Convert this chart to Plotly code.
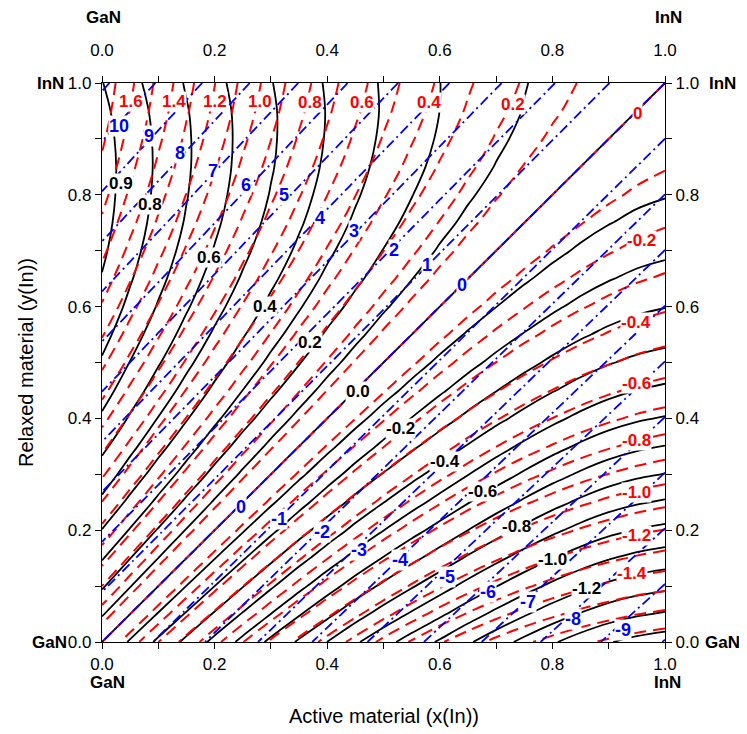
import plotly.graph_objects as go

# ---------------- data ----------------
# In composition grid (x of active layer, y of relaxed layer)
comp = [0.00, 0.05, 0.10, 0.15, 0.20, 0.25, 0.30, 0.35, 0.40, 0.45, 0.50,
        0.55, 0.60, 0.65, 0.70, 0.75, 0.80, 0.85, 0.90, 0.95, 1.00]
# in-plane lattice constant (Angstrom) at each composition
lattice_a = [3.1890, 3.2068, 3.2246, 3.2424, 3.2602, 3.2780, 3.2958, 3.3136,
             3.3314, 3.3492, 3.3670, 3.3848, 3.4026, 3.4204, 3.4382, 3.4560,
             3.4738, 3.4916, 3.5094, 3.5272, 3.5450]
# unstrained offset curve (red family = curve(y) - curve(x))
offset_curve = [0.000, 0.153, 0.299, 0.438, 0.571, 0.697, 0.816, 0.928,
                1.034, 1.133, 1.225, 1.310, 1.389, 1.461, 1.526, 1.584,
                1.635, 1.680, 1.718, 1.750, 1.774]
# strain coefficient of the active layer (black family = red + coef * strain)
strain_coef = [-7.80, -7.50, -7.20, -6.90, -6.60, -6.30, -6.00, -5.70,
               -5.45, -5.15, -4.90, -4.65, -4.40, -4.05, -3.70, -3.35,
               -3.00, -2.70, -2.45, -2.30, -2.20]

tick_vals = [0.0, 0.2, 0.4, 0.6, 0.8, 1.0]
tick_text = ["0.0", "0.2", "0.4", "0.6", "0.8", "1.0"]

black_labels_text = ["0.9", "0.8", "0.6", "0.4", "0.2", "0.0", "-0.2", "-0.4",
                     "-0.6", "-0.8", "-1.0", "-1.2"]
black_labels_x = [0.033, 0.086, 0.190, 0.290, 0.370, 0.455, 0.531, 0.610,
                  0.675, 0.737, 0.801, 0.861]
black_labels_y = [0.821, 0.782, 0.687, 0.601, 0.535, 0.448, 0.382, 0.323,
                  0.269, 0.206, 0.147, 0.096]

red_labels_text = ["1.6", "1.4", "1.2", "1.0", "0.8", "0.6", "0.4", "0.2", "0",
                   "-0.2", "-0.4", "-0.6", "-0.8", "-1.0", "-1.2", "-1.4"]
red_labels_x = [0.052, 0.127, 0.201, 0.281, 0.369, 0.461, 0.580, 0.730, 0.952,
                0.959, 0.949, 0.950, 0.950, 0.950, 0.950, 0.941]
red_labels_y = [0.967, 0.967, 0.967, 0.967, 0.966, 0.966, 0.966, 0.962, 0.946,
                0.719, 0.572, 0.463, 0.361, 0.268, 0.191, 0.123]

blue_labels_text = ["10", "9", "8", "7", "6", "5", "4", "3", "2", "1", "0",
                    "0", "-1", "-2", "-3", "-4", "-5", "-6", "-7", "-8", "-9"]
blue_labels_x = [0.030, 0.083, 0.139, 0.198, 0.255, 0.323, 0.388, 0.447,
                 0.518, 0.578, 0.639, 0.246, 0.314, 0.391, 0.456, 0.530,
                 0.613, 0.686, 0.757, 0.837, 0.926]
blue_labels_y = [0.923, 0.905, 0.875, 0.842, 0.817, 0.800, 0.759, 0.735,
                 0.702, 0.675, 0.639, 0.242, 0.220, 0.197, 0.165, 0.147,
                 0.117, 0.090, 0.072, 0.042, 0.022]

# ---------------- tables built from the arrays ----------------
n = len(comp)
strain_pct = [[100.0 * (lattice_a[j] - lattice_a[i]) / lattice_a[i] for i in range(n)]
              for j in range(n)]
red_field = [[offset_curve[j] - offset_curve[i] for i in range(n)] for j in range(n)]
black_field = [[red_field[j][i] + strain_coef[i] * strain_pct[j][i] / 100.0
                for i in range(n)] for j in range(n)]

FONT = "Liberation Sans, Arial, sans-serif"

fig = go.Figure()
fig.add_trace(go.Contour(
    x=comp, y=comp, z=black_field,
    contours=dict(coloring="none", start=-1.5, end=0.95, size=0.1),
    line=dict(color="black", width=1.8, smoothing=1.0),
    showscale=False, hoverinfo="skip"))
fig.add_trace(go.Contour(
    x=comp, y=comp, z=red_field,
    contours=dict(coloring="none", start=-1.7, end=1.75, size=0.1),
    line=dict(color="#ff0000", width=2.0, dash="12px,7px", smoothing=1.0),
    showscale=False, hoverinfo="skip"))
fig.add_trace(go.Contour(
    x=comp, y=comp, z=strain_pct,
    contours=dict(coloring="none", start=-10, end=11, size=1),
    line=dict(color="#0000ff", width=1.8, dash="10px,4px,2px,4px", smoothing=1.0),
    showscale=False, hoverinfo="skip"))
# carrier for the top / right axes
fig.add_trace(go.Scatter(x=[None], y=[None], xaxis="x2", yaxis="y2",
                         showlegend=False, hoverinfo="skip"))

annotations = []


def label(t, x, y, color, size):
    return dict(x=x, y=y, xref="x", yref="y", text="<b>%s</b>" % t,
                showarrow=False, bgcolor="white", borderpad=0,
                xanchor="center", yanchor="middle",
                font=dict(family=FONT, size=size, color=color))


for t, x, y in zip(black_labels_text, black_labels_x, black_labels_y):
    annotations.append(label(t, x, y, "black", 17))
for t, x, y in zip(red_labels_text, red_labels_x, red_labels_y):
    annotations.append(label(t, x, y, "#ff0000", 17))
for t, x, y in zip(blue_labels_text, blue_labels_x, blue_labels_y):
    annotations.append(label(t, x, y, "#0000ff", 18))

end_font = dict(family=FONT, size=17, color="black")
for txt, px, py in [("GaN", 0.010, -0.073), ("InN", 1.005, -0.073),
                    ("GaN", 0.003, 1.117), ("InN", 1.007, 1.117),
                    ("InN", -0.091, 1.0), ("GaN", -0.093, 0.0),
                    ("InN", 1.102, 1.0), ("GaN", 1.102, 0.0)]:
    annotations.append(dict(x=px, y=py, xref="paper", yref="paper",
                            xanchor="center", yanchor="middle",
                            text="<b>%s</b>" % txt, showarrow=False, font=end_font))

annotations.append(dict(x=0.5, y=-0.132, xref="paper", yref="paper",
                        xanchor="center", yanchor="middle",
                        text="Active material (x(In))", showarrow=False,
                        font=dict(family=FONT, size=20, color="black")))
annotations.append(dict(x=-0.136, y=0.5, xref="paper", yref="paper",
                        xanchor="center", yanchor="middle",
                        text="Relaxed material (y(In))", showarrow=False, textangle=-90,
                        font=dict(family=FONT, size=20, color="black")))

axis_common = dict(range=[0, 1], tickvals=tick_vals, ticktext=tick_text,
                   ticks="outside", ticklen=6, tickwidth=1.3, tickcolor="black",
                   minor=dict(dtick=0.1, ticks="outside", ticklen=6, tickwidth=1.3,
                              tickcolor="black"),
                   showline=True, linecolor="black", linewidth=1.4,
                   showgrid=False, zeroline=False,
                   tickfont=dict(family=FONT, size=17, color="black"))

fig.update_layout(
    width=747, height=734,
    margin=dict(l=93.5, r=90, t=75, b=100),
    paper_bgcolor="white", plot_bgcolor="white",
    showlegend=False,
    xaxis=dict(**axis_common, side="bottom"),
    yaxis=dict(**axis_common, side="left"),
    xaxis2=dict(**axis_common, side="top", overlaying="x", matches="x",
                ticklabelstandoff=13),
    yaxis2=dict(**axis_common, side="right", overlaying="y", matches="y"),
    annotations=annotations,
)

fig.write_html("out.html")
